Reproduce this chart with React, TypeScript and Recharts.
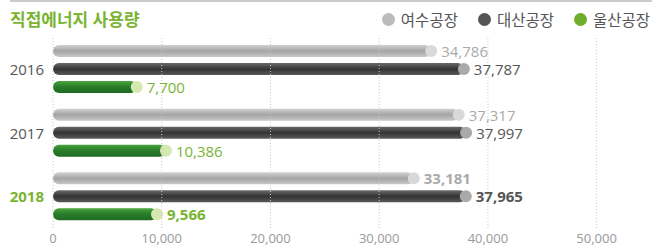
import React from "react";
import {
  BarChart,
  Bar,
  XAxis,
  YAxis,
  ReferenceLine,
} from "recharts";

const years = ["2016", "2017", "2018"];
const yeosu = [34786, 37317, 33181];
const daesan = [37787, 37997, 37965];
const ulsan = [7700, 10386, 9566];
const xTicks = [0, 10000, 20000, 30000, 40000, 50000];

const seriesNames = ["여수공장", "대산공장", "울산공장"];

const data = years.map((year, i) => ({
  year,
  yeosu: yeosu[i],
  daesan: daesan[i],
  ulsan: ulsan[i],
}));

const FONT = "'Open Sans', 'Noto Sans CJK KR', sans-serif";
const GREEN = "#79b432";

const makeShape = (gradId: string, capColor: string) => (props: any) => {
  const { x, y, width, height } = props;
  const r = height / 2;
  return (
    <g>
      <rect x={x} y={y} width={Math.max(width, 0)} height={height} rx={r} ry={r} fill={`url(#${gradId})`} />
      <circle cx={x + width} cy={y + r} r={r} fill={capColor} />
    </g>
  );
};

const makeLabel = (color: string) => (props: any) => {
  const { x, y, width, height, value, index } = props;
  const last = index === years.length - 1;
  return (
    <text
      x={x + width + height / 2 + 4}
      y={y + height / 2}
      dominantBaseline="central"
      fill={color}
      fontSize={15}
      fontWeight={last ? 700 : 400}
      fontFamily={FONT}
    >
      {Number(value).toLocaleString("en-US")}
    </text>
  );
};

const YearTick = (props: any) => {
  const { x, y, payload } = props;
  const last = payload.value === years[years.length - 1];
  return (
    <text
      x={x - 1}
      y={y}
      textAnchor="end"
      dominantBaseline="central"
      fill={last ? GREEN : "#555"}
      fontSize={15}
      fontWeight={last ? 700 : 400}
      fontFamily={FONT}
    >
      {payload.value}
    </text>
  );
};

const legendColors = ["#bbbbbb", "#555555", "#6fae2c"];

export default function App() {
  return (
    <div style={{ position: "absolute", left: 0, top: 0, width: 665, height: 247, background: "#fff", fontFamily: FONT }}>
      <div style={{ position: "absolute", left: 10, top: 0, width: 642, height: 2, background: "#cccccc" }} />
      <div style={{ position: "absolute", left: 10, top: 6, fontSize: 17, fontWeight: 700, color: GREEN }}>
        직접에너지 사용량
      </div>
      <div style={{ position: "absolute", right: 15, top: 8, display: "flex", alignItems: "center", fontSize: 15.5, color: "#555" }}>
        {seriesNames.map((name, i) => (
          <div key={name} style={{ display: "flex", alignItems: "center", marginLeft: i === 0 ? 0 : 20 }}>
            <span style={{ width: 13, height: 13, borderRadius: "50%", background: legendColors[i], marginRight: 6, display: "inline-block" }} />
            <span>{name}</span>
          </div>
        ))}
      </div>
      <BarChart
        width={665}
        height={247}
        data={data}
        layout="vertical"
        margin={{ top: 37, right: 14, left: 0, bottom: 0 }}
        barSize={12}
        barGap={6}
        style={{ position: "absolute", left: 0, top: 0 }}
      >
        <defs>
          <linearGradient id="gGray" x1="0" y1="0" x2="0" y2="1">
            <stop offset="0%" stopColor="#d2d2d2" />
            <stop offset="50%" stopColor="#a4a4a4" />
            <stop offset="100%" stopColor="#c8c8c8" />
          </linearGradient>
          <linearGradient id="gDark" x1="0" y1="0" x2="0" y2="1">
            <stop offset="0%" stopColor="#6a6a6a" />
            <stop offset="50%" stopColor="#333333" />
            <stop offset="100%" stopColor="#5a5a5a" />
          </linearGradient>
          <linearGradient id="gGreen" x1="0" y1="0" x2="0" y2="1">
            <stop offset="0%" stopColor="#4aa53c" />
            <stop offset="45%" stopColor="#2a7e2a" />
            <stop offset="100%" stopColor="#1d6a22" />
          </linearGradient>
        </defs>
        <XAxis
          type="number"
          domain={[0, 55000]}
          ticks={xTicks}
          height={19}
          axisLine={false}
          tickLine={false}
          tickSize={6}
          tickMargin={0}
          tick={{ fill: "#999", fontSize: 13, fontFamily: FONT }}
          tickFormatter={(v: number) => v.toLocaleString("en-US")}
        />
        <YAxis type="category" dataKey="year" width={53} axisLine={false} tickLine={false} tick={<YearTick />} />
        <Bar dataKey="yeosu" name={seriesNames[0]} shape={makeShape("gGray", "#d9d9d9")} label={makeLabel("#aaaaaa")} isAnimationActive={false} />
        <Bar dataKey="daesan" name={seriesNames[1]} shape={makeShape("gDark", "#aaaaaa")} label={makeLabel("#555555")} isAnimationActive={false} />
        <Bar dataKey="ulsan" name={seriesNames[2]} shape={makeShape("gGreen", "#d5e8b0")} label={makeLabel(GREEN)} isAnimationActive={false} />
        {xTicks.map((t) => (
          <ReferenceLine key={t} x={t} stroke="#c8c8c8" strokeDasharray="1 2" />
        ))}
      </BarChart>
    </div>
  );
}
